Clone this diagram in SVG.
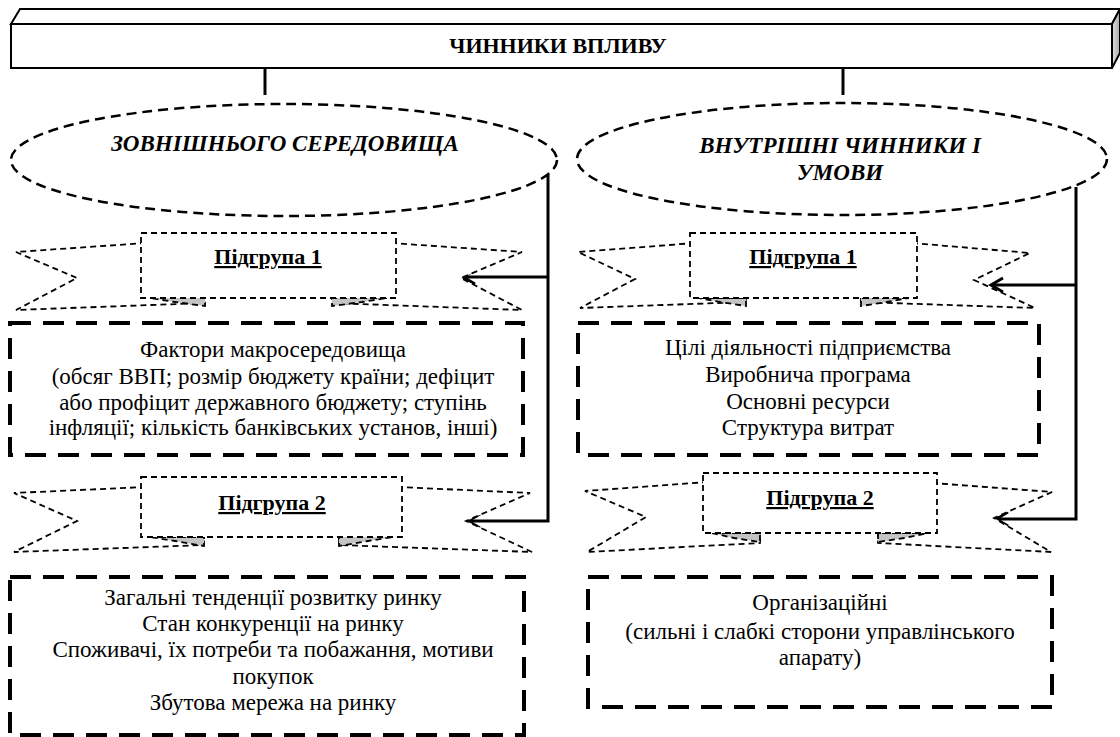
<svg xmlns="http://www.w3.org/2000/svg" width="1120" height="737" viewBox="0 0 1120 737" font-family="'Liberation Serif', 'Times New Roman', serif">
<defs>
<linearGradient id="side" x1="0" y1="0" x2="1" y2="0"><stop offset="0" stop-color="#e0e0e0"/><stop offset="1" stop-color="#a8a8a8"/></linearGradient>
<marker id="arr" markerUnits="userSpaceOnUse" markerWidth="18" markerHeight="18" viewBox="0 0 18 18" refX="15" refY="9" orient="auto"><path d="M3,2 L15,9 L3,16" fill="none" stroke="#000" stroke-width="3"/></marker>
<style>
.t{font-family:"Liberation Serif","Times New Roman",serif;fill:#000;text-anchor:middle}
.body{font-size:23px}
.hdr{font-size:22px;font-weight:bold;text-decoration:underline}
.ell{font-size:23px;font-weight:bold;font-style:italic}
.title{font-size:22px;font-weight:bold}
.ellipse{fill:none;stroke:#000;stroke-width:2.5;stroke-dasharray:10 6}
.rib{fill:#fff;stroke:#000;stroke-width:1.8;stroke-dasharray:6 4}
.fold{fill:#c4c4c4;stroke:#000;stroke-width:1.8;stroke-dasharray:6 4}
.box{fill:#fff;stroke:#000;stroke-width:4;stroke-dasharray:21 12}
.con{fill:none;stroke:#000;stroke-width:3}
</style>
</defs>

<g id="top-bar">
<polygon points="11,24 20,9 1120,9 1112,24" fill="#fff" stroke="#000" stroke-width="2"/>
<polygon points="1112,24 1120,9 1120,53 1112,68" fill="url(#side)" stroke="#000" stroke-width="2"/>
<rect x="11" y="24" width="1101" height="44" fill="#fff" stroke="#000" stroke-width="2"/>
<text class="t title" x="558" y="53">ЧИННИКИ ВПЛИВУ</text>
</g>

<g id="connectors">
<path class="con" d="M265,68 V95"/>
<path class="con" d="M843,68 V95"/>
<path class="con" d="M548,175 V521 H468" marker-end="url(#arr)"/>
<path class="con" d="M548,277 H463" marker-end="url(#arr)"/>
<path class="con" d="M1076,187 V519 H996" marker-end="url(#arr)"/>
<path class="con" d="M1076,285 H991" marker-end="url(#arr)"/>
</g>

<g id="ellipse-external">
<ellipse class="ellipse" cx="284" cy="160" rx="273" ry="56"/>
<text class="t ell" x="285" y="151">ЗОВНІШНЬОГО СЕРЕДОВИЩА</text>
</g>

<g id="ellipse-internal">
<ellipse class="ellipse" cx="842" cy="159" rx="265" ry="56"/>
<text class="t ell" x="840" y="153">ВНУТРІШНІ ЧИННИКИ І</text>
<text class="t ell" x="840" y="180">УМОВИ</text>
</g>

<g id="left-subgroup-1">
<polygon class="rib" points="146,243 16,252 77,278 16,310 205,303 205,293"/>
<polygon class="rib" points="391,243 522,252 461,278 522,310 332,303 332,293"/>
<polygon class="fold" points="150,298 205,298 205,306 175,302"/>
<polygon class="fold" points="387,298 332,298 332,306 362,302"/>
<rect class="rib" x="141" y="233" width="255" height="65"/>
<text class="t hdr" x="268" y="264">Підгрупа 1</text>
</g>

<g id="left-box-1">
<rect class="box" x="10" y="323" width="513" height="132"/>
<text class="t body" x="273" y="357">Фактори макросередовища</text>
<text class="t body" x="273" y="384">(обсяг ВВП; розмір бюджету країни; дефіцит</text>
<text class="t body" x="273" y="410">або профіцит державного бюджету; ступінь</text>
<text class="t body" x="273" y="435">інфляції; кількість банківських установ, інші)</text>
</g>

<g id="left-subgroup-2">
<polygon class="rib" points="146,487 14,493 77,521 14,552 204,545 204,532"/>
<polygon class="rib" points="397,487 530,493 466,521 532,552 339,545 339,532"/>
<polygon class="fold" points="150,537 204,537 204,546 175,541"/>
<polygon class="fold" points="393,537 339,537 339,546 368,541"/>
<rect class="rib" x="141" y="477" width="261" height="60"/>
<text class="t hdr" x="272" y="510">Підгрупа 2</text>
</g>

<g id="left-box-2">
<rect class="box" x="10" y="577" width="514" height="158"/>
<text class="t body" x="273" y="605">Загальні тенденції розвитку ринку</text>
<text class="t body" x="273" y="631">Стан конкуренції на ринку</text>
<text class="t body" x="273" y="657">Споживачі, їх потреби та побажання, мотиви</text>
<text class="t body" x="273" y="684">покупок</text>
<text class="t body" x="273" y="710">Збутова мережа на ринку</text>
</g>

<g id="right-subgroup-1">
<polygon class="rib" points="695,243 578,252 635,279 580,308 746,302 746,293"/>
<polygon class="rib" points="912,243 1030,253 974,280 1035,308 861,302 861,293"/>
<polygon class="fold" points="699,298 746,298 746,306 720,302"/>
<polygon class="fold" points="908,298 861,298 861,306 887,302"/>
<rect class="rib" x="690" y="233" width="227" height="65"/>
<text class="t hdr" x="803" y="264">Підгрупа 1</text>
</g>

<g id="right-box-1">
<rect class="box" x="578" y="323" width="461" height="132"/>
<text class="t body" x="808" y="355">Цілі діяльності підприємства</text>
<text class="t body" x="808" y="382">Виробнича програма</text>
<text class="t body" x="808" y="409">Основні ресурси</text>
<text class="t body" x="808" y="435">Структура витрат</text>
</g>

<g id="right-subgroup-2">
<polygon class="rib" points="708,482 585,491 646,517 587,552 760,543 760,530"/>
<polygon class="rib" points="932,483 1052,492 994,518 1051,552 878,543 878,530"/>
<polygon class="fold" points="712,533 760,533 760,542 734,538"/>
<polygon class="fold" points="928,533 878,533 878,542 904,538"/>
<rect class="rib" x="703" y="473" width="234" height="60"/>
<text class="t hdr" x="820" y="505">Підгрупа 2</text>
</g>

<g id="right-box-2">
<rect class="box" x="588" y="577" width="464" height="130"/>
<text class="t body" x="820" y="610">Організаційні</text>
<text class="t body" x="820" y="639">(сильні і слабкі сторони управлінського</text>
<text class="t body" x="820" y="665">апарату)</text>
</g>
</svg>
